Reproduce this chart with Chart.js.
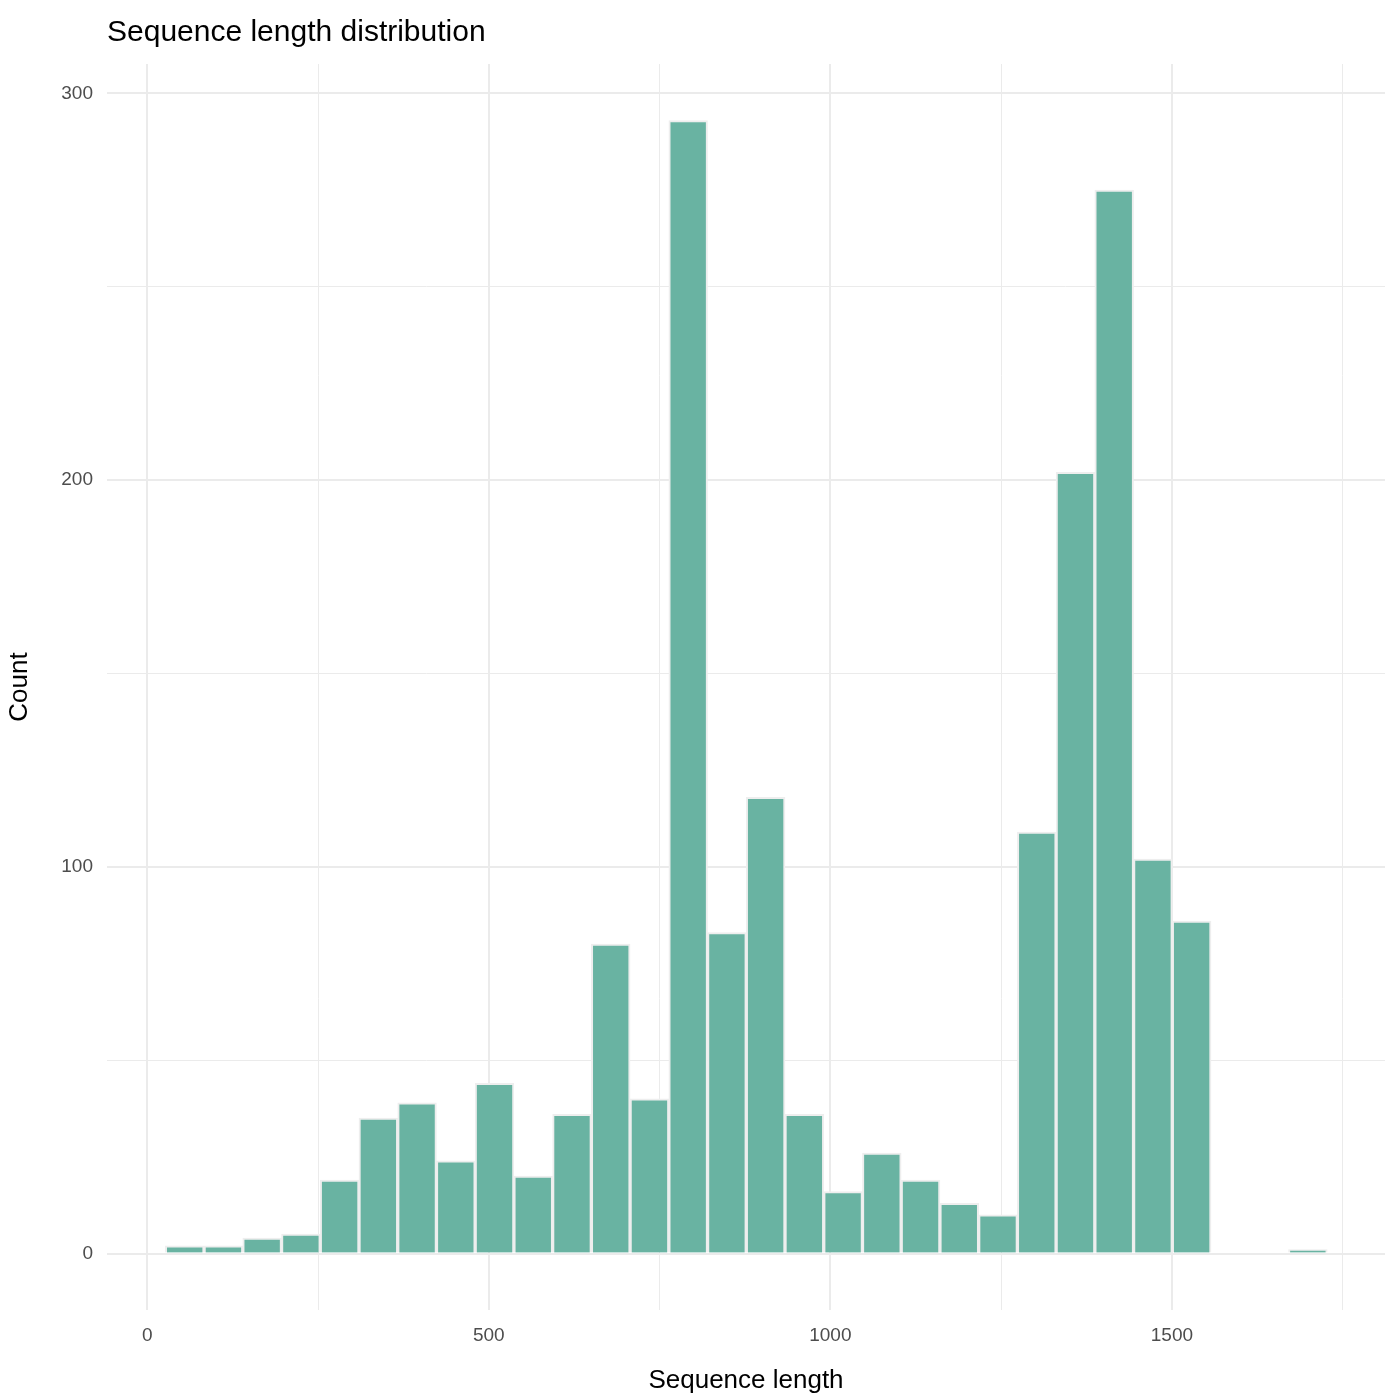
<!DOCTYPE html>
<html>
<head>
<meta charset="utf-8">
<script src="https://cdn.jsdelivr.net/npm/chart.js@4"></script>
<style>
  body { margin: 0; background: #fff; }
  #wrap { width: 1400px; height: 1400px; }
</style>
</head>
<body>
<div id="wrap"><canvas id="c" width="1400" height="1400"></canvas></div>
<script>
// histogram: 30 bins, left edge ~26, width ~56.7
var binStart = 26.4;
var binWidth = 56.7;
var counts = [2, 2, 4, 5, 19, 35, 39, 24, 44, 20, 36, 80, 40, 293, 83, 118,
              36, 16, 26, 19, 13, 10, 109, 202, 275, 102, 86, 0, 0, 1];
var xTickValues = [0, 500, 1000, 1500];
var yTickValues = [0, 100, 200, 300];

var points = counts.map(function (c, i) {
    return { x: binStart + binWidth * (i + 0.5), y: c };
});

var titlePlugin = {
    id: 'leftTitle',
    afterDraw: function (chart) {
        var ctx = chart.ctx;
        ctx.save();
        ctx.fillStyle = '#000';
        ctx.font = '30px "Liberation Sans", Arial, sans-serif';
        ctx.textBaseline = 'alphabetic';
        ctx.fillText('Sequence length distribution', chart.chartArea.left, 41);
        ctx.restore();
    }
};

function gridColor(ctx) { return '#ebebeb'; }

new Chart(document.getElementById('c'), {
    type: 'bar',
    data: {
        datasets: [{
            data: points,
            backgroundColor: '#69b3a2',
            borderColor: '#eeeeee',
            borderWidth: 2,
            barPercentage: 1,
            categoryPercentage: 1
        }]
    },
    options: {
        responsive: false,
        animation: false,
        plugins: { legend: { display: false }, tooltip: { enabled: false } },
        layout: { padding: { top: 64, right: 15, left: 0, bottom: 0 } },
        scales: {
            x: {
                type: 'linear',
                offset: false,
                min: -59, max: 1812,
                border: { display: false },
                grid: {
                    offset: false,
                    drawTicks: false,
                    color: gridColor,
                    lineWidth: function (ctx) { return ctx.tick && ctx.tick.value % 500 === 0 ? 2 : 1; }
                },
                afterBuildTicks: function (axis) {
                    axis.ticks = [];
                    for (var v = 0; v <= 1750; v += 250) axis.ticks.push({ value: v });
                },
                ticks: {
                    padding: 14,
                    color: '#4d4d4d',
                    font: { size: 19, family: '"Liberation Sans", Arial, sans-serif' },
                    maxRotation: 0,
                    autoSkip: false,
                    callback: function (v) { return xTickValues.indexOf(v) >= 0 ? v : ''; }
                },
                title: {
                    display: true, text: 'Sequence length', color: '#000',
                    font: { size: 26, family: '"Liberation Sans", Arial, sans-serif' },
                    padding: { top: 0 }
                },
                afterFit: function (axis) { axis.height = 90; }
            },
            y: {
                min: -14.6, max: 307.6,
                border: { display: false },
                grid: {
                    drawTicks: false,
                    color: gridColor,
                    lineWidth: function (ctx) { return ctx.tick && ctx.tick.value % 100 === 0 ? 2 : 1; }
                },
                afterBuildTicks: function (axis) {
                    axis.ticks = [];
                    for (var v = 0; v <= 300; v += 50) axis.ticks.push({ value: v });
                },
                ticks: {
                    padding: 14,
                    color: '#4d4d4d',
                    font: { size: 19, family: '"Liberation Sans", Arial, sans-serif' },
                    autoSkip: false,
                    callback: function (v) { return yTickValues.indexOf(v) >= 0 ? v : ''; }
                },
                title: {
                    display: true, text: 'Count', color: '#000',
                    font: { size: 26, family: '"Liberation Sans", Arial, sans-serif' }
                },
                afterFit: function (axis) { axis.width = 107; }
            }
        }
    },
    plugins: [titlePlugin]
});
</script>
</body>
</html>
